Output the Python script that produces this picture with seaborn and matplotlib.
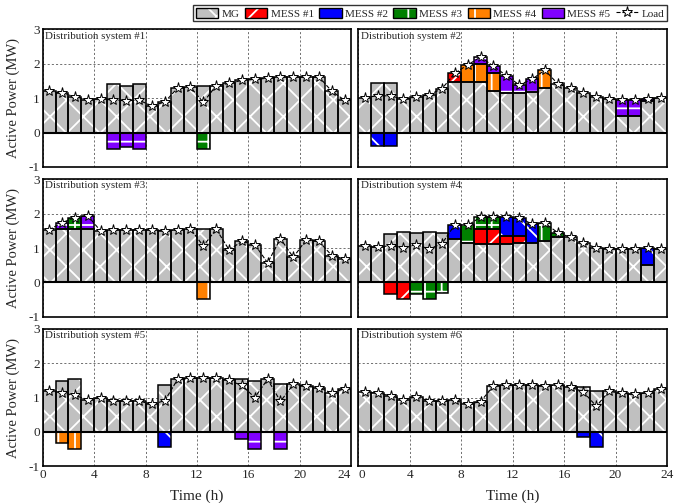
import numpy as np
import pandas as pd
import seaborn as sns
import matplotlib.pyplot as plt
from matplotlib.patches import Patch
from matplotlib.lines import Line2D
from matplotlib.legend_handler import HandlerTuple

hours = np.arange(24)

# MG output (MW) for each distribution system
mg_ds1 = [1.21, 1.14, 1.05, 0.95, 0.99, 1.42, 1.36, 1.42, 0.78, 0.89, 1.30, 1.32,
          1.36, 1.37, 1.43, 1.52, 1.55, 1.58, 1.62, 1.62, 1.61, 1.62, 1.20, 0.94]
mg_ds2 = [1.02, 1.45, 1.45, 0.97, 1.04, 1.10, 1.28, 1.47, 1.47, 1.47, 1.21, 1.16,
          1.14, 1.19, 1.31, 1.42, 1.29, 1.16, 1.03, 0.98, 0.47, 0.47, 0.92, 1.01]
mg_ds3 = [1.53, 1.55, 1.55, 1.55, 1.50, 1.53, 1.53, 1.53, 1.53, 1.50, 1.53, 1.55,
          1.55, 1.55, 0.95, 1.19, 1.10, 0.57, 1.27, 0.73, 1.24, 1.19, 0.78, 0.68]
mg_ds4 = [1.05, 1.02, 1.41, 1.48, 1.45, 1.46, 1.43, 1.26, 1.16, 1.12, 1.12, 1.13,
          1.15, 1.16, 1.19, 1.31, 1.31, 1.14, 1.01, 0.97, 0.97, 0.97, 0.50, 0.96]
mg_ds5 = [1.18, 1.47, 1.55, 0.94, 1.00, 0.90, 0.90, 0.90, 0.80, 1.36, 1.53, 1.56,
          1.56, 1.56, 1.50, 1.55, 1.49, 1.53, 1.38, 1.38, 1.33, 1.28, 1.13, 1.26]
mg_ds6 = [1.16, 1.13, 1.05, 0.94, 1.02, 0.90, 0.89, 0.92, 0.80, 0.88, 1.34, 1.36,
          1.36, 1.36, 1.34, 1.36, 1.31, 1.32, 1.18, 1.18, 1.12, 1.09, 1.14, 1.26]

# Load (MW)
load_ds1 = [1.21, 1.14, 1.05, 0.95, 0.99, 0.94, 0.93, 0.94, 0.78, 0.89, 1.30, 1.32,
            0.88, 1.37, 1.43, 1.52, 1.55, 1.58, 1.62, 1.62, 1.61, 1.62, 1.20, 0.94]
load_ds2 = [1.02, 1.07, 1.07, 0.97, 1.04, 1.10, 1.28, 1.73, 1.97, 2.20, 1.93, 1.66,
            1.39, 1.55, 1.82, 1.42, 1.29, 1.16, 1.03, 0.98, 0.96, 0.96, 0.99, 1.01]
load_ds3 = [1.53, 1.74, 1.88, 1.94, 1.50, 1.53, 1.53, 1.53, 1.53, 1.50, 1.53, 1.55,
            1.06, 1.55, 0.95, 1.19, 1.10, 0.57, 1.27, 0.73, 1.24, 1.19, 0.78, 0.68]
load_ds4 = [1.05, 1.02, 1.07, 1.00, 1.10, 0.97, 1.13, 1.68, 1.66, 1.90, 1.90, 1.90,
            1.88, 1.70, 1.72, 1.45, 1.31, 1.14, 1.01, 0.97, 0.97, 0.97, 0.99, 0.96]
load_ds5 = [1.18, 1.14, 1.06, 0.94, 1.00, 0.90, 0.90, 0.90, 0.80, 0.91, 1.53, 1.56,
            1.56, 1.56, 1.50, 1.35, 1.00, 1.53, 0.89, 1.38, 1.33, 1.28, 1.13, 1.26]
load_ds6 = [1.16, 1.13, 1.05, 0.94, 1.02, 0.90, 0.89, 0.92, 0.80, 0.88, 1.34, 1.36,
            1.36, 1.36, 1.34, 1.36, 1.31, 1.16, 0.75, 1.18, 1.12, 1.09, 1.14, 1.26]

# MESS power (MW) by hour, + discharging / - charging
mess_ds1 = {"MESS #3": {12: -0.48},
            "MESS #5": {5: -0.48, 6: -0.43, 7: -0.48}}
mess_ds2 = {"MESS #1": {7: 0.26},
            "MESS #2": {1: -0.38, 2: -0.38},
            "MESS #4": {8: 0.50, 9: 0.53, 10: 0.52, 14: 0.51},
            "MESS #5": {9: 0.20, 10: 0.20, 11: 0.50, 12: 0.25, 13: 0.36,
                        20: 0.49, 21: 0.49, 22: 0.07}}
mess_ds3 = {"MESS #3": {2: 0.33},
            "MESS #4": {12: -0.49},
            "MESS #5": {1: 0.19, 3: 0.39}}
mess_ds4 = {"MESS #1": {2: -0.34, 3: -0.48, 9: 0.43, 10: 0.43, 11: 0.23, 12: 0.20},
            "MESS #2": {7: 0.42, 11: 0.54, 12: 0.53, 13: 0.54, 22: 0.49},
            "MESS #3": {4: -0.35, 5: -0.49, 6: -0.30, 8: 0.50, 9: 0.35, 10: 0.35,
                        14: 0.53, 15: 0.14}}
mess_ds5 = {"MESS #2": {9: -0.45},
            "MESS #4": {1: -0.33, 2: -0.49},
            "MESS #5": {15: -0.20, 16: -0.49, 18: -0.49}}
mess_ds6 = {"MESS #2": {17: -0.16, 18: -0.44}}

titles = ["Distribution system #%d" % k for k in range(1, 7)]
mess_names = ["MESS #1", "MESS #2", "MESS #3", "MESS #4", "MESS #5"]
mess_colors = ["#ff0000", "#0000ff", "#008000", "#ff8000", "#8000ff"]
mess_hatches = ["/", "\\", "+", "|", "-"]
mg_color, mg_hatch = "#c0c0c0", "x"

sns.set_theme(style="white")
plt.rcParams["font.family"] = ["Liberation Serif", "DejaVu Serif"]
plt.rcParams["axes.unicode_minus"] = False
plt.rcParams["hatch.linewidth"] = 1.3


def hatched_bar(ax, x, h, b, color, hatch):
    ax.bar(x, h, width=1.0, bottom=b, color=color, edgecolor="white",
           linewidth=0, hatch=hatch, zorder=2)
    ax.bar(x, h, width=1.0, bottom=b, fill=False, edgecolor="black",
           linewidth=1.1, zorder=3)


def draw_panel(ax, mg, load, mess, title):
    x = hours + 0.5
    hatched_bar(ax, x, mg, 0, mg_color, mg_hatch)
    top = np.array(mg, dtype=float)
    low = np.zeros(24)
    for name, col, hat in zip(mess_names, mess_colors, mess_hatches):
        vals = np.zeros(24)
        for h, v in mess.get(name, {}).items():
            vals[h] = v
        pos = vals > 0
        neg = vals < 0
        if pos.any():
            hatched_bar(ax, x[pos], vals[pos], top[pos], col, hat)
            top[pos] += vals[pos]
        if neg.any():
            hatched_bar(ax, x[neg], vals[neg], low[neg], col, hat)
            low[neg] += vals[neg]
    df = pd.DataFrame({"Time (h)": x, "Load": load})
    sns.lineplot(data=df, x="Time (h)", y="Load", ax=ax, color="black",
                 linestyle="--", linewidth=0.8, marker="*", markersize=8,
                 markerfacecolor="white", markeredgecolor="black",
                 markeredgewidth=0.7, zorder=5)
    ax.axhline(0, color="black", lw=1.5, zorder=4)
    ax.set_xlim(0, 24)
    ax.set_ylim(-1, 3)
    ax.set_xticks(range(0, 25, 4))
    ax.set_yticks([-1, 0, 1, 2, 3])
    ax.grid(True, linestyle=(0, (2.5, 2.5)), color="0.35", linewidth=0.6)
    ax.set_axisbelow(True)
    ax.tick_params(direction="in", length=0, labelsize=9.5, pad=2)
    for s in ax.spines.values():
        s.set_color("black")
        s.set_linewidth(1.2)
    ax.text(0.008, 0.985, title, transform=ax.transAxes, ha="left", va="top",
            fontsize=7.8, zorder=6)
    ax.set_xlabel("")
    ax.set_ylabel("")


fig = plt.figure(figsize=(6.84, 5.03), dpi=100)
lefts = [0.0624, 0.5241]
bottoms = [0.668, 0.3702, 0.0730]
w, h = 0.451, 0.2734

data = [(mg_ds1, load_ds1, mess_ds1), (mg_ds2, load_ds2, mess_ds2),
        (mg_ds3, load_ds3, mess_ds3), (mg_ds4, load_ds4, mess_ds4),
        (mg_ds5, load_ds5, mess_ds5), (mg_ds6, load_ds6, mess_ds6)]

for k, (mg, load, mess) in enumerate(data):
    r, c = divmod(k, 2)
    ax = fig.add_axes([lefts[c], bottoms[r], w, h])
    draw_panel(ax, mg, load, mess, titles[k])
    if c == 0:
        ax.set_ylabel("Active Power (MW)", fontsize=10.5, labelpad=6)
    else:
        ax.set_yticklabels([])
    if r == 2:
        ax.set_xlabel("Time (h)", fontsize=11, labelpad=6)
        tl = ax.get_xticklabels()
        if c == 0:
            tl[-1].set_ha("right")
        else:
            tl[0].set_ha("left")
    else:
        ax.set_xticklabels([])

handles = [(Patch(facecolor=mg_color, edgecolor="white", hatch=mg_hatch, linewidth=0),
            Patch(fill=False, edgecolor="black", linewidth=1.0))]
for col, hat in zip(mess_colors, mess_hatches):
    handles.append((Patch(facecolor=col, edgecolor="white", hatch=hat, linewidth=0),
                    Patch(fill=False, edgecolor="black", linewidth=1.0)))
handles.append(Line2D([], [], color="black", linestyle="--", linewidth=0.8,
                      marker="*", markersize=8, markerfacecolor="white",
                      markeredgecolor="black", markeredgewidth=0.7))
labels = ["MG"] + mess_names + ["Load"]
leg = fig.legend(handles, labels, loc="upper right",
                 bbox_to_anchor=(667 / 684, 1 - 5 / 503), ncol=7,
                 handler_map={tuple: HandlerTuple(ndivide=1)},
                 frameon=True, fancybox=False, edgecolor="black", fontsize=8,
                 handlelength=2.0, handleheight=1.0, handletextpad=0.3,
                 columnspacing=0.5, borderpad=0.25, borderaxespad=0)
leg.get_frame().set_linewidth(1.0)

fig.savefig("out.png", dpi=100)
